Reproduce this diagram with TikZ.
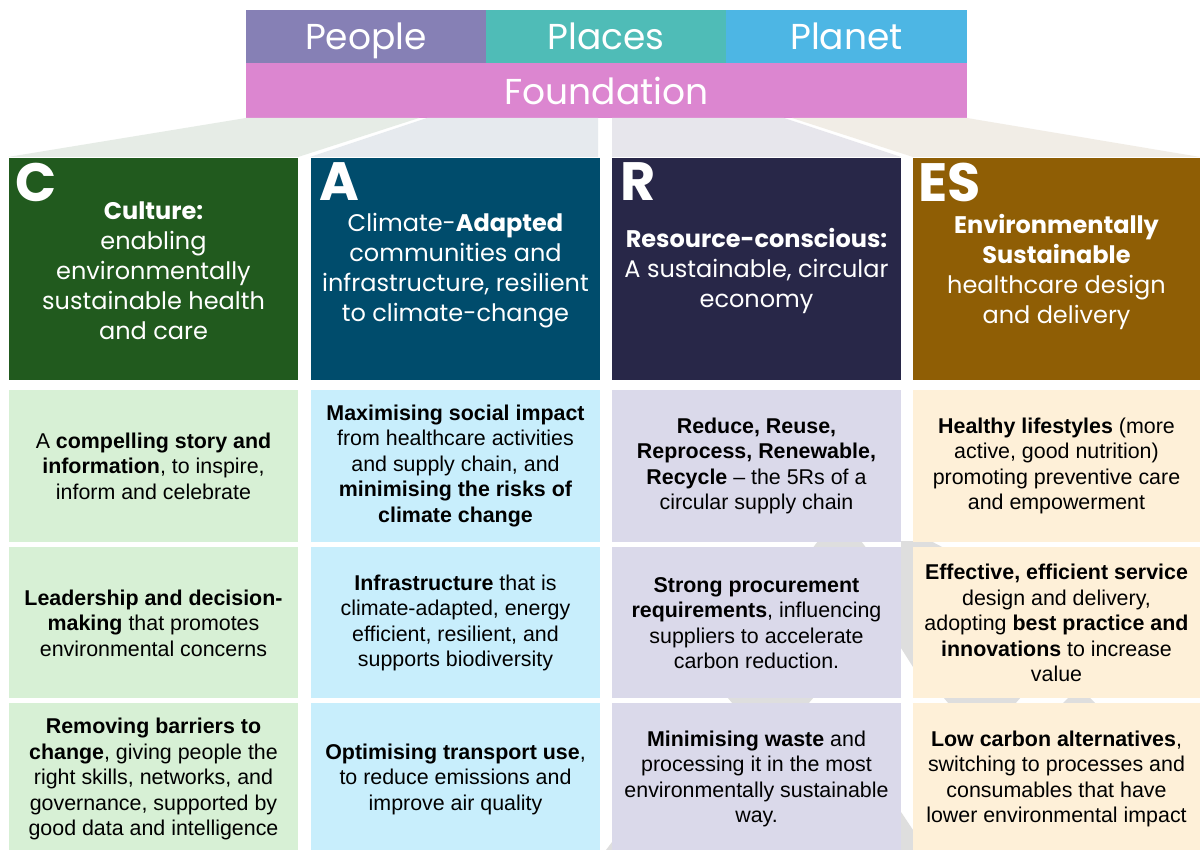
\documentclass[tikz,border=0pt]{standalone}
\usepackage{fontspec}
\setmainfont{Liberation Sans}
\newfontfamily\hdr{Poppins}
\definecolor{people}{HTML}{8680B5}
\definecolor{places}{HTML}{4FBCB7}
\definecolor{planet}{HTML}{4DB6E4}
\definecolor{found}{HTML}{DC86D0}
\definecolor{fanA}{HTML}{E6ECE6}
\definecolor{fanB}{HTML}{E6EAEE}
\definecolor{fanC}{HTML}{E7E6EC}
\definecolor{fanD}{HTML}{F1EDE6}
\definecolor{hC}{HTML}{215A1E}
\definecolor{hA}{HTML}{004C6C}
\definecolor{hR}{HTML}{282748}
\definecolor{hE}{HTML}{8F5E05}
\definecolor{cC}{HTML}{D7F0D5}
\definecolor{cA}{HTML}{C8EEFC}
\definecolor{cR}{HTML}{DAD9EA}
\definecolor{cE}{HTML}{FEF0D8}
\definecolor{wm}{HTML}{DEDEDE}
\tikzset{
  topbox/.style={anchor=north west, text=white, font=\hdr\fontsize{36}{40}\selectfont, text height=27, text depth=0},
  headbox/.style={anchor=north west, minimum width=289, minimum height=222},
  headtxt/.style={text=white, align=center, font=\hdr\fontsize{24}{30}\selectfont},
  bigletter/.style={anchor=north west, text=white, font=\hdr\bfseries\fontsize{54}{56}\selectfont},
  cell/.style={anchor=north west, minimum width=289, align=center, text=black},
  celltxt/.style={align=center, text=black, font=\fontsize{21.4}{25.5}\selectfont},
}
\begin{document}
\begin{tikzpicture}[x=1pt,y=-1pt, every node/.style={inner sep=0pt, outer sep=0pt}]
\useasboundingbox (0,0) rectangle (1200,850);
\fill[white] (0,0) rectangle (1200,850);

% top bar
\node[topbox, fill=people, minimum width=240, minimum height=53] (people) at (246,10) {People};
\node[topbox, fill=places, minimum width=240, minimum height=53] (places) at (486,10) {Places};
\node[topbox, fill=planet, minimum width=241, minimum height=53] (planet) at (726,10) {Planet};
\node[topbox, fill=found, minimum width=721, minimum height=55, text height=29] (foundation) at (246,63) {Foundation};

% fan
\fill[fanA] (246,118) -- (419,118) -- (298,157) -- (8,157) -- cycle;
\fill[fanB] (427,118) -- (598,118) -- (598,157) -- (310,157) -- cycle;
\fill[fanC] (612,118) -- (784,118) -- (901,157) -- (612,157) -- cycle;
\fill[fanD] (792,118) -- (967,118) -- (1200,157) -- (913,157) -- cycle;

% watermark pieces visible in gaps
\fill[wm] (812,549) -- (818,541) -- (861,541) -- (867,549) -- cycle;
\fill[wm] (898,549) -- (923,537) -- (946,549) -- cycle;
\fill[wm] (901,541) -- (913,541) -- (913,667) -- (901,648) -- cycle;
\fill[wm] (727,697) -- (814,697) -- (808,704) -- (733,704) -- cycle;
\fill[wm] (943,697) -- (1021,697) -- (1015,704) -- (949,704) -- cycle;
\fill[wm] (1069,697) -- (1089,697) -- (1096,704) -- (1062,704) -- cycle;
\fill[wm] (901,812) -- (913,830) -- (913,850) -- (901,850) -- cycle;
\fill[wm] (606,850) -- (612,842) -- (612,850) -- cycle;

% column headers
\node[headbox, fill=hC] (hc) at (9,158) {};
\node[headbox, fill=hA] (ha) at (311,158) {};
\node[headbox, fill=hR] (hr) at (612,158) {};
\node[headbox, fill=hE, minimum width=287] (he) at (913,158) {};

\node[bigletter] (lc) at (16,163) {C};
\node[bigletter] (la) at (319,163) {A};
\node[bigletter] (lr) at (620,163) {R};
\node[bigletter] (le) at (918,163) {ES};

\node[headtxt] (tc) at (153.5,271) {\textbf{Culture:}\\enabling\\environmentally\\sustainable health\\and care};
\node[headtxt] (ta) at (455.5,271) {Climate-\textbf{Adapted}\\communities and\\infrastructure, resilient\\to climate-change};
\node[headtxt] (tr) at (756.5,271) {\textbf{Resource-conscious:}\\A sustainable, circular\\economy};
\node[headtxt] (te) at (1056.5,272) {\textbf{Environmentally}\\\textbf{Sustainable}\\healthcare design\\and delivery};

% cells row 1
\node[cell, fill=cC, minimum height=152] (c1) at (9,390) {};
\node[cell, fill=cA, minimum height=152] (a1) at (311,390) {};
\node[cell, fill=cR, minimum height=152] (r1) at (612,390) {};
\node[cell, fill=cE, minimum height=152, minimum width=287] (e1) at (913,390) {};
% row 2
\node[cell, fill=cC, minimum height=151] (c2) at (9,547) {};
\node[cell, fill=cA, minimum height=151] (a2) at (311,547) {};
\node[cell, fill=cR, minimum height=151] (r2) at (612,547) {};
\node[cell, fill=cE, minimum height=151, minimum width=287] (e2) at (913,547) {};
% row 3
\node[cell, fill=cC, minimum height=152] (c3) at (9,703) {};
\node[cell, fill=cA, minimum height=152] (a3) at (311,703) {};
\node[cell, fill=cR, minimum height=152] (r3) at (612,703) {};
\node[cell, fill=cE, minimum height=152, minimum width=287] (e3) at (913,703) {};

\node[celltxt] (tc1) at (153.5,466) {A \textbf{compelling story and}\\\textbf{information}, to inspire,\\inform and celebrate};
\node[celltxt] (ta1) at (455.5,466) {\textbf{Maximising social impact}\\from healthcare activities\\and supply chain, and\\\textbf{minimising the risks of}\\\textbf{climate change}};
\node[celltxt] (tr1) at (756.5,466) {\textbf{Reduce, Reuse,}\\\textbf{Reprocess, Renewable,}\\\textbf{Recycle} – the 5Rs of a\\circular supply chain};
\node[celltxt] (te1) at (1056.5,466) {\textbf{Healthy lifestyles} (more\\active, good nutrition)\\promoting preventive care\\and empowerment};

\node[celltxt] (tc2) at (153.5,623) {\textbf{Leadership and decision-}\\\textbf{making} that promotes\\environmental concerns};
\node[celltxt] (ta2) at (455.5,623) {\textbf{Infrastructure} that is\\climate-adapted, energy\\efficient, resilient, and\\supports biodiversity};
\node[celltxt] (tr2) at (756.5,623) {\textbf{Strong procurement}\\\textbf{requirements}, influencing\\suppliers to accelerate\\carbon reduction.};
\node[celltxt] (te2) at (1056.5,623) {\textbf{Effective, efficient service}\\design and delivery,\\adopting \textbf{best practice and}\\\textbf{innovations} to increase\\value};

\node[celltxt] (tc3) at (153.5,779) {\textbf{Removing barriers to}\\\textbf{change}, giving people the\\right skills, networks, and\\governance, supported by\\good data and intelligence};
\node[celltxt] (ta3) at (455.5,779) {\textbf{Optimising transport use},\\to reduce emissions and\\improve air quality};
\node[celltxt] (tr3) at (756.5,779) {\textbf{Minimising waste} and\\processing it in the most\\environmentally sustainable\\way.};
\node[celltxt] (te3) at (1056.5,779) {\textbf{Low carbon alternatives},\\switching to processes and\\consumables that have\\lower environmental impact};
\end{tikzpicture}
\end{document}
